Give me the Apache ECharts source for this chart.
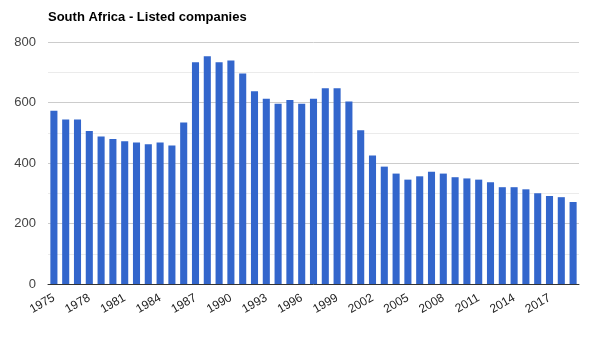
<!DOCTYPE html>
<html><head><meta charset="utf-8">
<script src="https://cdn.jsdelivr.net/npm/echarts@6/dist/echarts.min.js"></script>
<style>html,body{margin:0;padding:0;background:#fff}#c{width:602px;height:339px}</style>
</head><body><div id="c"></div>
<script>
const title = "South Africa - Listed companies";
const years = [];
for (let y = 1975; y <= 2019; y++) years.push(String(y));
const listed = [573,544,544,506,488,479,472,468,462,468,458,534,733,753,733,739,696,637,612,596,608,596,612,647,647,603,508,425,388,365,345,356,371,365,353,349,345,336,320,320,313,300,291,287,271];
const yTicks = [0,200,400,600,800];

const chart = echarts.init(document.getElementById('c'), null, {renderer:'canvas'});
chart.setOption({
  animation:false,
  title:{text:title,left:43,top:6,textStyle:{fontFamily:'Liberation Sans, Arial',fontSize:13,fontWeight:'bold',color:'#000'}},
  grid:{left:48,right:23,top:42,bottom:55,containLabel:false},
  xAxis:{type:'category',data:years,
    axisLine:{lineStyle:{color:'#333',width:1}},
    axisTick:{show:false},
    axisLabel:{interval:2,rotate:30,margin:13,fontFamily:'Liberation Sans, Arial',fontSize:12,color:'#222'}},
  yAxis:[{type:'value',min:0,max:800,interval:200,
    axisLine:{show:false},axisTick:{show:false},
    axisLabel:{margin:12,fontFamily:'Liberation Sans, Arial',fontSize:13,color:'#444'},
    splitLine:{lineStyle:{color:'#cccccc'}},
    minorTick:{show:false,splitNumber:2},
    minorSplitLine:{show:true,lineStyle:{color:'#ebebeb'}}}],
  series:[{type:'bar',data:listed,barCategoryGap:'40%',itemStyle:{color:'#3366cc'}}]
});
</script></body></html>
